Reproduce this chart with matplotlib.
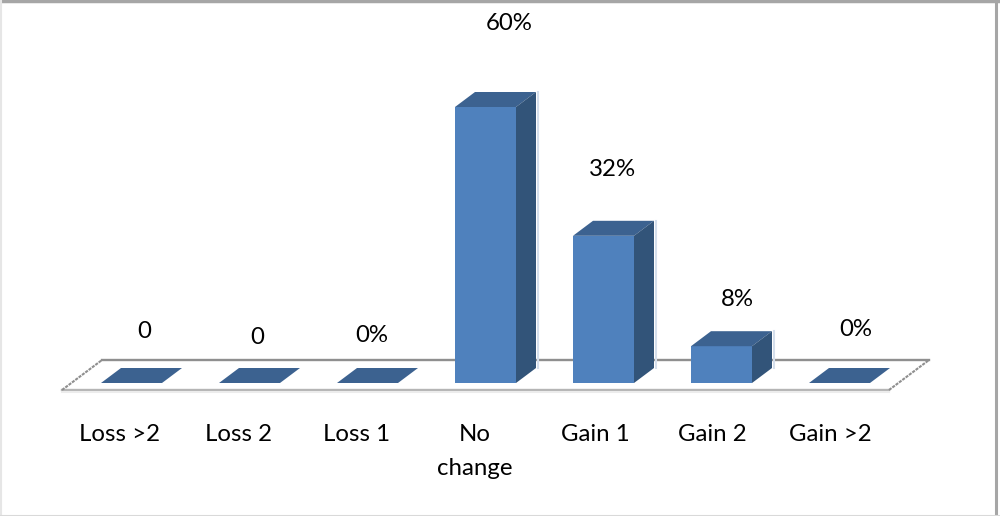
import matplotlib
matplotlib.use("Agg")
import matplotlib.pyplot as plt
from matplotlib.patches import Polygon

categories = ["Loss >2", "Loss 2", "Loss 1", "No\nchange", "Gain 1", "Gain 2", "Gain >2"]
values = [0, 0, 0, 60, 32, 8, 0]
value_labels = ["0", "0", "0%", "60%", "32%", "8%", "0%"]

# hand placed in the original, so offsets are not regular (pixels)
label_x = [144, 257, 372, 509, 612, 737, 856]
label_y = [331, 338, 335, 24, 170, 300, 330]
cat_x = [120, 239, 357, 475, 595, 712, 830]

W, H = 1000, 516
PX_X = 118.0   # px per category
PX_Y = 4.6     # px per percent
X0 = 131.5     # px of first category
Y0 = 383.0     # px of zero line

FRONT = "#4f81bd"
TOP = "#3c6290"
SIDE = "#325479"
GLOW = "#d5dfec"

plt.rcParams["font.family"] = ["Lato", "DejaVu Sans"]

fig = plt.figure(figsize=(W / 100, H / 100), dpi=100)
ax = fig.add_axes([0, 0, 1, 1])
ax.set_xlim(-X0 / PX_X, (W - X0) / PX_X)
ax.set_ylim(-(H - Y0) / PX_Y, Y0 / PX_Y)
ax.axis("off")

bar_w = 61 / PX_X
dx = 20 / PX_X
dy = 15 / PX_Y
x_pos = list(range(len(values)))


def fx(px):
    return (px - X0) / PX_X


def fy(py):
    return (Y0 - py) / PX_Y


# floor of the 3d chart
ax.plot([fx(102), fx(929)], [fy(360), fy(360)], color="#8f8f8f", lw=1.7, zorder=1)
ax.plot([fx(62), fx(889)], [fy(390), fy(390)], color="#b5b5b5", lw=1.7, zorder=1)
ax.plot([fx(62), fx(889)], [fy(392), fy(392)], color="#ececec", lw=1.5, zorder=1)
ax.plot([fx(62), fx(102)], [fy(390), fy(360)], color="#8f8f8f", lw=1.5, ls=(0, (1.5, 0.5)), zorder=1)
ax.plot([fx(889), fx(929)], [fy(390), fy(360)], color="#8f8f8f", lw=1.5, ls=(0, (1.5, 0.5)), zorder=1)

ax.bar(x_pos, values, width=bar_w, color=FRONT, linewidth=0, zorder=3)
for x, v in zip(x_pos, values):
    l = x - bar_w / 2
    r = x + bar_w / 2
    ax.add_patch(Polygon([(l, v), (r, v), (r + dx, v + dy), (l + dx, v + dy)], closed=True,
                         facecolor=TOP, edgecolor="none", zorder=3))
    if v > 0:
        ax.add_patch(Polygon([(r, 0), (r, v), (r + dx, v + dy), (r + dx, dy)], closed=True,
                             facecolor=SIDE, edgecolor="none", zorder=3))
        ax.plot([r + dx + 1.5 / PX_X] * 2, [dy, v + dy], color=GLOW, lw=1.5, zorder=2)

for lx, ly, txt in zip(label_x, label_y, value_labels):
    ax.text(fx(lx), fy(ly), txt, ha="center", va="center", fontsize=17.3, color="black")

for cx, txt in zip(cat_x, categories):
    ax.text(fx(cx), fy(424), txt, ha="center", va="top", fontsize=17.3, color="black", linespacing=1.75)

# picture border, right edge sits a little inside the image
ax.plot([0, 1], [0.999, 0.999], transform=ax.transAxes, color="#a6a6a6", lw=2.5, zorder=5)
ax.plot([0.9955, 0.9955], [0, 1], transform=ax.transAxes, color="#a6a6a6", lw=2.2, zorder=5)
ax.plot([0.0005, 0.0005], [0, 1], transform=ax.transAxes, color="#e6e6e6", lw=1.5, zorder=5)
ax.plot([0, 1], [0.0005, 0.0005], transform=ax.transAxes, color="#d9d9d9", lw=1.5, zorder=5)

fig.savefig("out.png", dpi=100)
